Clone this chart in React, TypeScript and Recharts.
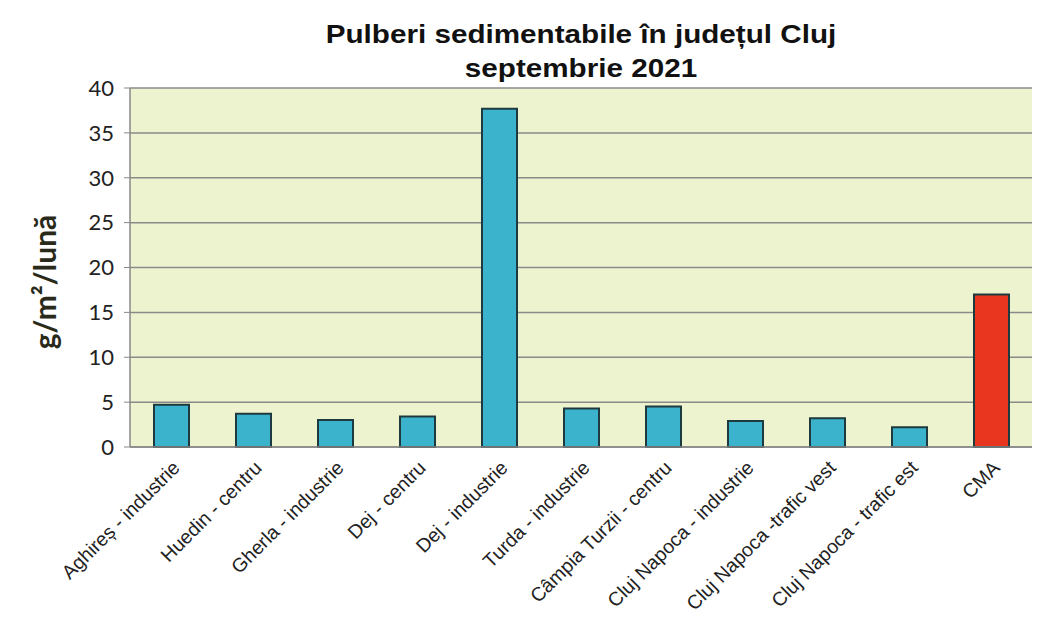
import { BarChart, Bar, XAxis, YAxis, CartesianGrid, Cell } from "recharts";

const CATEGORIES = [
  "Aghireș - industrie",
  "Huedin - centru",
  "Gherla - industrie",
  "Dej - centru",
  "Dej - industrie",
  "Turda - industrie",
  "Câmpia Turzii - centru",
  "Cluj Napoca - industrie",
  "Cluj Napoca -trafic vest",
  "Cluj Napoca - trafic est",
  "CMA",
];
const VALUES = [4.7, 3.7, 3.0, 3.4, 37.7, 4.3, 4.5, 2.9, 3.2, 2.2, 17];
const Y_TICKS = [0, 5, 10, 15, 20, 25, 30, 35, 40];

const data = CATEGORIES.map((name, i) => ({ name, value: VALUES[i] }));

const CategoryTick = (props: any) => {
  const { x, y, payload } = props;
  return (
    <g transform={`translate(${x + 10},${y + 14})`}>
      <text
        transform="rotate(-45)"
        textAnchor="end"
        fontFamily="Liberation Sans, Arial, sans-serif"
        fontSize={19.5}
        fill="#222"
      >
        {payload.value}
      </text>
    </g>
  );
};

export default function App() {
  return (
    <div style={{ position: "absolute", left: 0, top: 0, width: 1039, height: 639, background: "#fff" }}>
      <div
        style={{
          position: "absolute",
          left: 130,
          width: 902,
          top: 17,
          textAlign: "center",
          fontFamily: "Liberation Sans, Arial, sans-serif",
          fontWeight: "bold",
          fontSize: 26,
          lineHeight: "34px",
          color: "#111",
          transform: "scaleX(1.14)",
        }}
      >
        Pulberi sedimentabile în județul Cluj
        <br />
        septembrie 2021
      </div>
      <div
        style={{
          position: "absolute",
          left: 44,
          top: 282,
          transform: "translate(-50%, -50%) rotate(-90deg)",
          fontFamily: "Lato, sans-serif",
          fontWeight: "bold",
          fontSize: 30,
          color: "#2a2a1a",
          whiteSpace: "nowrap",
        }}
      >
        g/m²/lună
      </div>
      <BarChart
        width={1039}
        height={639}
        data={data}
        margin={{ top: 88, right: 7, left: 0, bottom: 0 }}
        barCategoryGap={0}
      >
        <CartesianGrid vertical={false} stroke="#8a8a8a" strokeWidth={1.5} fill="#eef3cf" />
        <XAxis
          dataKey="name"
          interval={0}
          tick={<CategoryTick />}
          tickLine={false}
          axisLine={{ stroke: "#888", strokeWidth: 1.5 }}
          height={192}
        />
        <YAxis
          domain={[0, 40]}
          ticks={Y_TICKS}
          width={130}
          tick={{ fill: "#222", fontSize: 22, fontFamily: "Lato, sans-serif", dx: -8 }}
          tickLine={{ stroke: "#888" }}
          tickSize={6}
          axisLine={{ stroke: "#888", strokeWidth: 1.5 }}
        />
        <Bar dataKey="value" barSize={35} isAnimationActive={false} stroke="#1e3a3e" strokeWidth={2}>
          {data.map((d, i) => (
            <Cell key={`c-${i}`} fill={d.name === "CMA" ? "#e8361f" : "#3bb3cc"} />
          ))}
        </Bar>
      </BarChart>
    </div>
  );
}
